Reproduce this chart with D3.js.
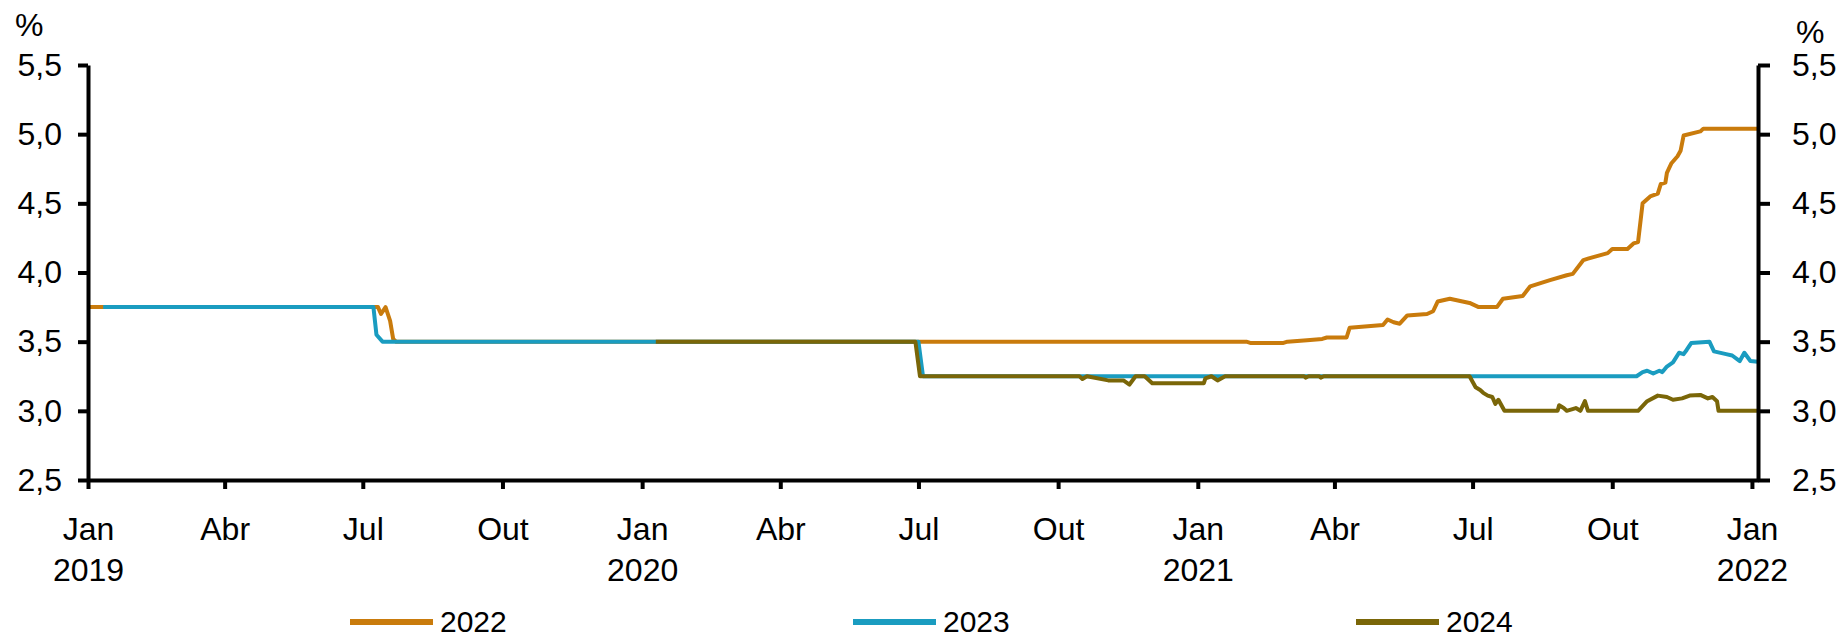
<!DOCTYPE html>
<html>
<head>
<meta charset="utf-8">
<script src="https://cdn.jsdelivr.net/npm/d3@7"></script>
<style>
  body { margin: 0; background: #fff; }
  svg text { font-family: "Liberation Sans", Arial, sans-serif; fill: #000; }
</style>
</head>
<body>
<div id="chart"></div>
<script>
// Focus: expectativas de IPCA por ano-calendário (%)
const series2022 = [
  ["2019-01-01", 3.75], ["2019-07-11", 3.75], ["2019-07-13", 3.70], ["2019-07-16", 3.75],
  ["2019-07-19", 3.65], ["2019-07-21", 3.52], ["2019-07-23", 3.50], ["2021-02-02", 3.50],
  ["2021-02-05", 3.49], ["2021-02-26", 3.49], ["2021-03-01", 3.50], ["2021-03-14", 3.51],
  ["2021-03-24", 3.52], ["2021-03-27", 3.53], ["2021-04-09", 3.53], ["2021-04-11", 3.60],
  ["2021-05-03", 3.62], ["2021-05-06", 3.66], ["2021-05-10", 3.64], ["2021-05-14", 3.63],
  ["2021-05-19", 3.69], ["2021-06-01", 3.70], ["2021-06-05", 3.72], ["2021-06-08", 3.79],
  ["2021-06-16", 3.81], ["2021-06-29", 3.78], ["2021-07-05", 3.75], ["2021-07-17", 3.75],
  ["2021-07-21", 3.81], ["2021-08-03", 3.83], ["2021-08-08", 3.90], ["2021-08-21", 3.945],
  ["2021-09-01", 3.98], ["2021-09-05", 3.99], ["2021-09-12", 4.09], ["2021-09-15", 4.10],
  ["2021-09-28", 4.14], ["2021-10-01", 4.17], ["2021-10-11", 4.17], ["2021-10-15", 4.21],
  ["2021-10-18", 4.22], ["2021-10-21", 4.50], ["2021-10-26", 4.55], ["2021-10-31", 4.57],
  ["2021-11-02", 4.64], ["2021-11-05", 4.65], ["2021-11-06", 4.72], ["2021-11-09", 4.79],
  ["2021-11-13", 4.84], ["2021-11-15", 4.88], ["2021-11-17", 4.99], ["2021-11-28", 5.02],
  ["2021-11-30", 5.04], ["2022-01-05", 5.04]
];

const series2023 = [
  ["2019-01-11", 3.75], ["2019-07-08", 3.75], ["2019-07-10", 3.55], ["2019-07-14", 3.50],
  ["2020-07-01", 3.50], ["2020-07-04", 3.25], ["2021-10-17", 3.25], ["2021-10-21", 3.28],
  ["2021-10-24", 3.29], ["2021-10-28", 3.27], ["2021-11-01", 3.29], ["2021-11-03", 3.28],
  ["2021-11-06", 3.32], ["2021-11-10", 3.35], ["2021-11-14", 3.42], ["2021-11-17", 3.41],
  ["2021-11-19", 3.44], ["2021-11-22", 3.49], ["2021-12-04", 3.50], ["2021-12-07", 3.43],
  ["2021-12-15", 3.41], ["2021-12-19", 3.40], ["2021-12-24", 3.36], ["2021-12-27", 3.42],
  ["2021-12-31", 3.36], ["2022-01-05", 3.355]
];

const series2024 = [
  ["2020-01-10", 3.50], ["2020-06-29", 3.50], ["2020-07-02", 3.25], ["2020-10-15", 3.25],
  ["2020-10-17", 3.23], ["2020-10-20", 3.25], ["2020-11-03", 3.22], ["2020-11-13", 3.22],
  ["2020-11-17", 3.19], ["2020-11-21", 3.25], ["2020-11-27", 3.25], ["2020-12-02", 3.20],
  ["2021-01-05", 3.20], ["2021-01-06", 3.235], ["2021-01-10", 3.25], ["2021-01-14", 3.22],
  ["2021-01-19", 3.25], ["2021-03-12", 3.25], ["2021-03-13", 3.24], ["2021-03-15", 3.25],
  ["2021-03-22", 3.25], ["2021-03-23", 3.24], ["2021-03-25", 3.25], ["2021-06-29", 3.25],
  ["2021-07-03", 3.17], ["2021-07-06", 3.15], ["2021-07-08", 3.13], ["2021-07-11", 3.11],
  ["2021-07-14", 3.10], ["2021-07-16", 3.05], ["2021-07-18", 3.08], ["2021-07-21", 3.02],
  ["2021-07-22", 3.00], ["2021-08-26", 3.00], ["2021-08-27", 3.04], ["2021-08-30", 3.02],
  ["2021-09-01", 3.00], ["2021-09-07", 3.02], ["2021-09-10", 3.00], ["2021-09-13", 3.07],
  ["2021-09-15", 3.00], ["2021-10-18", 3.00], ["2021-10-24", 3.07], ["2021-10-31", 3.11],
  ["2021-11-06", 3.10], ["2021-11-10", 3.08], ["2021-11-16", 3.09], ["2021-11-21", 3.11],
  ["2021-11-28", 3.115], ["2021-12-03", 3.09], ["2021-12-06", 3.10], ["2021-12-09", 3.07],
  ["2021-12-10", 3.00], ["2022-01-05", 3.00]
];

const seriesNames = ["2022", "2023", "2024"];
const seriesColors = ["#c97b0c", "#1a9cc0", "#7a6608"];

const yTicks = [2.5, 3, 3.5, 4, 4.5, 5, 5.5];
const xTickDates = ["2019-01-01", "2019-04-01", "2019-07-01", "2019-10-01", "2020-01-01",
  "2020-04-01", "2020-07-01", "2020-10-01", "2021-01-01", "2021-04-01", "2021-07-01",
  "2021-10-01", "2022-01-01"];
const xTickMonths = ["Jan", "Abr", "Jul", "Out", "Jan", "Abr", "Jul", "Out", "Jan", "Abr", "Jul", "Out", "Jan"];
const xTickYears = ["2019", "", "", "", "2020", "", "", "", "2021", "", "", "", "2022"];

const width = 1843, height = 641;
const parse = d3.timeParse("%Y-%m-%d");
const fmt = d => d3.format(".1f")(d).replace(".", ",");

const x = d3.scaleTime()
  .domain([parse("2019-01-01"), parse("2022-01-05")])
  .range([88, 1758]);
const y = d3.scaleLinear().domain([2.5, 5.5]).range([480, 65]);

const svg = d3.select("#chart").append("svg")
  .attr("width", width).attr("height", height);

// linhas (2022 embaixo, 2024 por cima)
const line = d3.line()
  .x(d => x(parse(d[0])))
  .y(d => y(d[1]));

[series2022, series2023, series2024].forEach((s, i) => {
  svg.append("path")
    .datum(s)
    .attr("d", line)
    .attr("fill", "none")
    .attr("stroke", seriesColors[i])
    .attr("stroke-width", 4)
    .attr("stroke-linejoin", "round");
});

function styleAxis(g) {
  g.select(".domain").attr("stroke", "#000").attr("stroke-width", 4);
  g.selectAll(".tick line").attr("stroke", "#000").attr("stroke-width", 4);
  g.selectAll("text").attr("font-size", 32).attr("fill", "#000")
    .attr("font-family", "Liberation Sans, Arial, sans-serif");
}

// eixo esquerdo
svg.append("g")
  .attr("transform", "translate(88,0)")
  .call(d3.axisLeft(y).tickValues(yTicks).tickFormat(fmt).tickSize(10).tickSizeOuter(0).tickPadding(16))
  .call(styleAxis);

// eixo direito
svg.append("g")
  .attr("transform", "translate(1758,0)")
  .call(d3.axisRight(y).tickValues(yTicks).tickFormat(fmt).tickSize(12).tickSizeOuter(0).tickPadding(22))
  .call(styleAxis);

// eixo x
const xg = svg.append("g")
  .attr("transform", "translate(0,480)")
  .call(d3.axisBottom(x).tickValues(xTickDates.map(parse)).tickFormat("").tickSize(9).tickSizeOuter(0))
  .call(styleAxis);

xg.selectAll(".tick").each(function(d, i) {
  const t = d3.select(this);
  t.append("text").attr("y", 60).attr("text-anchor", "middle")
    .attr("font-size", 32).text(xTickMonths[i]);
  if (xTickYears[i]) {
    t.append("text").attr("y", 101).attr("text-anchor", "middle")
      .attr("font-size", 32).text(xTickYears[i]);
  }
});

// unidades
svg.append("text").attr("x", 15).attr("y", 36).attr("font-size", 32).text("%");
svg.append("text").attr("x", 1796).attr("y", 43).attr("font-size", 32).text("%");

// legenda
const legend = svg.append("g");
seriesNames.forEach((name, i) => {
  const lx = 350 + i * 503;
  legend.append("line")
    .attr("x1", lx).attr("x2", lx + 83)
    .attr("y1", 622).attr("y2", 622)
    .attr("stroke", seriesColors[i]).attr("stroke-width", 6);
  legend.append("text")
    .attr("x", lx + 90).attr("y", 632)
    .attr("font-size", 30).text(name);
});
</script>
</body>
</html>
